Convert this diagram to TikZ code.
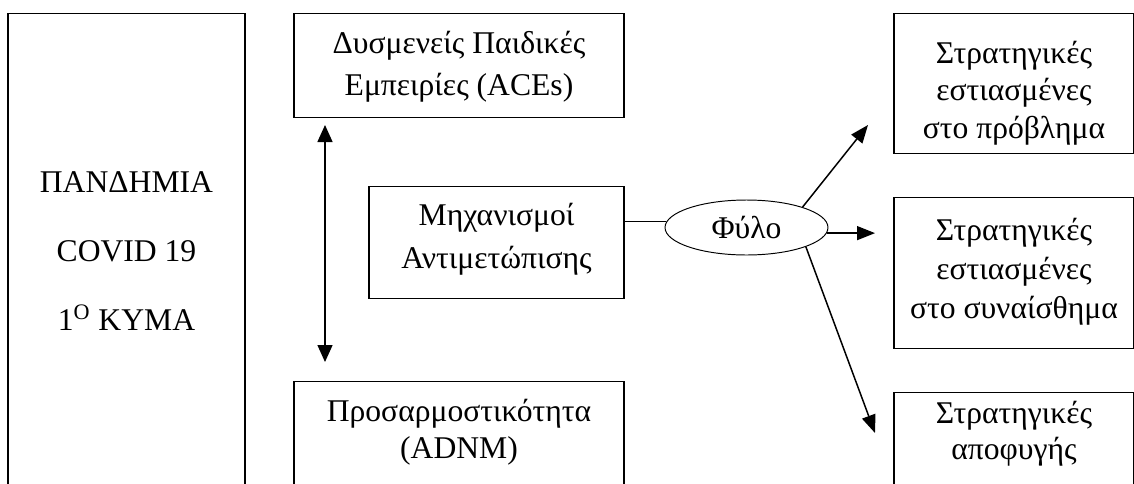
\documentclass[tikz,border=0pt]{standalone}
\usepackage{fontspec}
\setmainfont{Liberation Serif}
\usetikzlibrary{arrows.meta,shapes.geometric}

\tikzset{
  box/.style={draw, line width=0.75pt, align=center, inner sep=0pt, anchor=north},
  sexbox/.style={draw, ellipse, line width=0.55pt, inner sep=0pt,
    minimum width=3.26cm, minimum height=1.1cm, font=\fontsize{18}{24}\selectfont},
  link/.style={line width=0.6pt},
  arr/.style={line width=0.85pt, -{Triangle[length=0.36cm,width=0.28cm]}},
  dblarr/.style={line width=0.85pt, {Triangle[length=0.34cm,width=0.3cm]}-{Triangle[length=0.34cm,width=0.3cm]}}
}

\begin{document}
\begin{tikzpicture}[x=0.02cm, y=-0.02cm]
  \useasboundingbox (0,0) rectangle (1134,484);
  \clip (0,0) rectangle (1134,484);
  \node[box, minimum width=4.74cm, text height=6.34cm, text depth=3.4cm, font=\fontsize{18}{39.4}\selectfont] (pan) at (126.5,13) {ΠΑΝΔΗΜΙΑ\\COVID 19\\1\textsuperscript{Ο} ΚΥΜΑ};
  \node[box, minimum width=6.6cm, text height=1.64cm, text depth=0.44cm, font=\fontsize{18}{23.8}\selectfont] (aces) at (459,13) {Δυσμενείς Παιδικές\\Εμπειρίες (ACEs)};
  \node[box, minimum width=5.1cm, text height=1.64cm, text depth=0.6cm, font=\fontsize{18}{24.4}\selectfont] (mech) at (496.5,186) {Μηχανισμοί\\Αντιμετώπισης};
  \node[box, minimum width=6.6cm, text height=1.54cm, text depth=0.84cm, font=\fontsize{18}{21}\selectfont] (adnm) at (459,381) {Προσαρμοστικότητα\\(ADNM)};
  \node[sexbox] (fylo) at (746.5,227.5) {Φύλο};
  \node[box, minimum width=4.8cm, text height=2.5cm, text depth=0.3cm, font=\fontsize{18}{21.5}\selectfont] (s1) at (1014,13) {Στρατηγικές\\εστιασμένες\\στο πρόβλημα};
  \node[box, minimum width=4.8cm, text height=2.42cm, text depth=0.6cm, font=\fontsize{18}{22.1}\selectfont] (s2) at (1014,197) {Στρατηγικές\\εστιασμένες\\στο συναίσθημα};
  \node[box, minimum width=4.8cm, text height=1.34cm, text depth=0.82cm, font=\fontsize{18}{20.4}\selectfont] (s3) at (1014,392) {Στρατηγικές\\αποφυγής};
  \coordinate (up) at (325,125);
  \coordinate (dn) at (325,362);
  \coordinate (t1) at (868,125);
  \coordinate (t2) at (875,233);
  \coordinate (t3) at (875,433);
  \draw[dblarr] (up) -- (dn);
  \draw[link] (mech.east |- fylo.176) -- (fylo.176);
  \draw[arr] (fylo.20) -- (t1);
  \draw[arr] (fylo.-4) -- (t2 |- fylo.-4);
  \draw[arr] (fylo.-18) -- (t3);
\end{tikzpicture}
\end{document}
